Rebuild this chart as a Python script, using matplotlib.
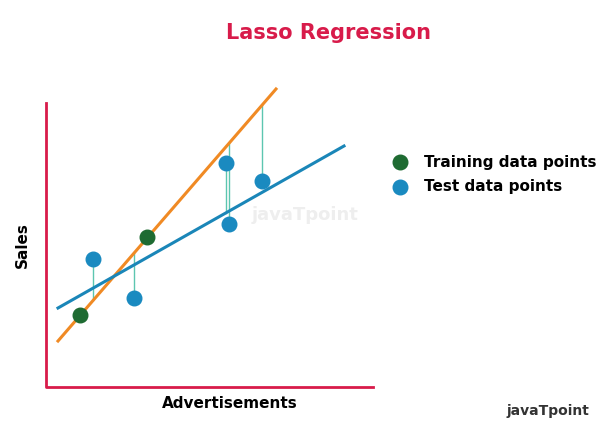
import matplotlib.pyplot as plt

# pixel-space diagram data (x right, y down)
train_x = [80, 147]
train_y = [315, 237]
test_x = [93, 134, 226, 229, 262]
test_y = [259, 298, 163, 224, 181]
# end points of the fitted lines
orange_x = [58, 276]
orange_y = [341, 89]
blue_x = [58, 344]
blue_y = [308, 146]
# where each residual segment meets a line
resid_end_y = [300, 253, 213, 143, 105]

fig = plt.figure(figsize=(6, 4.23), dpi=100)
ax = fig.add_axes([0, 0, 1, 1])
ax.set_xlim(0, 600)
ax.set_ylim(423, 0)
ax.axis('off')

crimson = '#d81b4a'
ax.plot([46, 46, 373], [103, 387, 387], color=crimson, lw=2)

for x, y0, y1 in zip(test_x, test_y, resid_end_y):
    ax.plot([x, x], [y0, y1], color='#5cc6b0', lw=1)

ax.plot(orange_x, orange_y, color='#f08a24', lw=2.2)
ax.plot(blue_x, blue_y, color='#1a86b8', lw=2.2)

ax.scatter(train_x, train_y, s=110, color='#1e6b32', zorder=5)
ax.scatter(test_x, test_y, s=110, color='#1a8ac0', zorder=5)

ax.scatter([400], [162], s=110, color='#1e6b32')
ax.scatter([400], [187], s=110, color='#1a8ac0')
ax.text(424, 162, 'Training data points', fontsize=11, fontweight='bold', va='center')
ax.text(424, 187, 'Test data points', fontsize=11, fontweight='bold', va='center')

ax.text(328, 33, 'Lasso Regression', fontsize=15, fontweight='bold', color=crimson,
        ha='center', va='center')
ax.text(22, 245, 'Sales', fontsize=11, fontweight='bold', rotation=90, ha='center', va='center')
ax.text(230, 404, 'Advertisements', fontsize=11, fontweight='bold', ha='center', va='center')

ax.text(305, 215, 'javaTpoint', fontsize=13, fontweight='bold', color='#eeeeee',
        ha='center', va='center', zorder=0)
ax.text(548, 411, 'javaTpoint', fontsize=10, fontweight='bold', color='#333333',
        ha='center', va='center')

fig.savefig('out.png')
